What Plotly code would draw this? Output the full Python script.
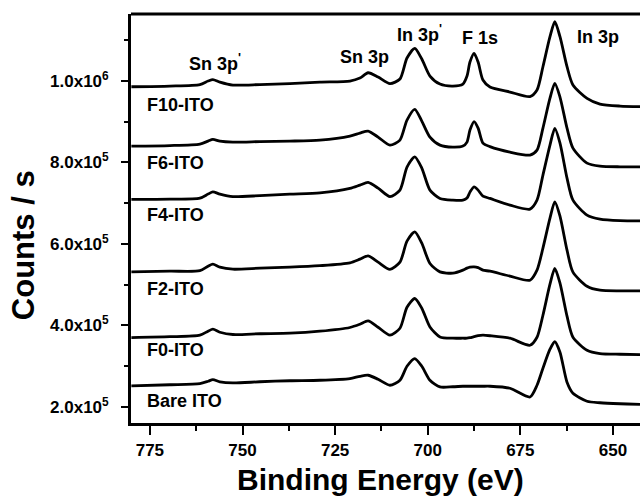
import plotly.graph_objects as go

# Binding energy grid (eV) shared by all spectra
binding_energy = [780.0, 769.6, 761.5, 759.3, 758.0, 756.1, 752.6, 745.3, 737.2, 729.1,
                  721.0, 718.3, 716.1, 713.4, 710.2, 707.5, 705.6, 703.5, 701.6, 699.4,
                  696.7, 693.2, 690.5, 689.4, 688.6, 687.5, 686.4, 685.1, 683.2, 677.8,
                  672.4, 670.5, 668.9, 667.0, 665.7, 664.3, 662.4, 660.8, 657.0, 653.5,
                  648.1, 642.7]

# Counts / s in thousands
f10_ito = [985.3, 987.0, 990.7, 999.3, 1003.0, 996.8, 989.5, 990.7, 993.1, 996.8,
           999.3, 1006.6, 1019.6, 1009.1, 993.1, 1004.2, 1055.7, 1079.5, 1053.3, 1011.5,
           991.9, 987.0, 991.9, 1011.5, 1045.9, 1067.2, 1045.9, 1001.7, 984.5, 972.3,
           961.2, 977.2, 1034.4, 1108.0, 1144.8, 1108.0, 1034.4, 989.5, 956.8, 942.8,
           937.9, 936.7]
f6_ito = [839.8, 841.0, 844.7, 852.0, 856.2, 852.0, 849.6, 850.8, 852.0, 854.5,
          864.3, 871.7, 876.6, 861.8, 842.2, 854.5, 903.6, 929.8, 901.1, 861.8,
          842.2, 837.3, 839.8, 849.6, 879.0, 899.9, 883.9, 847.1, 838.5, 825.0,
          817.7, 829.9, 883.9, 957.5, 993.6, 960.0, 883.9, 834.9, 798.0, 790.7,
          789.0, 789.0]
f4_ito = [709.0, 709.7, 712.2, 722.0, 727.6, 722.0, 715.8, 718.3, 722.0, 725.2,
          736.0, 744.1, 750.7, 736.7, 715.8, 731.8, 788.2, 813.5, 785.8, 731.8,
          711.4, 707.2, 707.2, 712.2, 726.9, 739.9, 731.8, 717.1, 711.4, 695.0,
          685.2, 707.2, 768.6, 842.2, 883.2, 847.1, 761.2, 707.2, 670.4, 660.6,
          656.9, 656.4]
f2_ito = [531.3, 533.0, 534.2, 545.3, 550.2, 542.8, 537.9, 540.4, 542.8, 546.5,
          553.4, 562.5, 570.6, 555.1, 537.2, 555.1, 606.6, 629.5, 601.7, 551.9,
          531.3, 528.1, 535.5, 540.4, 542.8, 543.6, 541.6, 535.5, 533.0, 520.7,
          510.9, 535.5, 589.5, 663.1, 703.1, 668.0, 584.5, 530.6, 496.2, 486.4,
          484.7, 484.7]
f0_ito = [370.3, 372.3, 376.0, 385.8, 390.7, 383.3, 377.7, 379.6, 380.9, 385.8,
          394.9, 402.9, 411.1, 395.6, 376.0, 393.1, 444.7, 466.0, 442.2, 396.3,
          371.8, 368.6, 368.6, 368.6, 369.8, 372.3, 374.7, 376.0, 374.7, 368.6,
          351.4, 371.0, 425.0, 501.1, 539.6, 503.6, 422.6, 371.0, 339.1, 331.0,
          329.3, 328.6]
bare_ito = [251.5, 254.5, 257.4, 263.1, 267.2, 261.8, 258.9, 261.8, 264.3, 265.5,
            269.7, 275.3, 277.8, 268.0, 253.3, 265.5, 299.9, 318.8, 299.9, 265.5,
            249.1, 249.6, 250.8, 250.8, 250.8, 250.8, 250.8, 250.8, 250.8, 245.9,
            224.5, 253.3, 295.0, 341.6, 360.0, 334.2, 260.6, 233.6, 214.0, 210.3,
            207.9, 206.6]

series_names = ["F10-ITO", "F6-ITO", "F4-ITO", "F2-ITO", "F0-ITO", "Bare ITO"]
series_values = [f10_ito, f6_ito, f4_ito, f2_ito, f0_ito, bare_ito]

y_tick_values = [2e5, 4e5, 6e5, 8e5, 1e6]
y_tick_labels = ["2.0x10<sup>5</sup>", "4.0x10<sup>5</sup>", "6.0x10<sup>5</sup>",
                 "8.0x10<sup>5</sup>", "1.0x10<sup>6</sup>"]

peak_labels = ["Sn 3p<sup>'</sup>", "Sn 3p", "In 3p<sup>'</sup>", "F 1s", "In 3p"]

FONT = "Liberation Sans, Arial, sans-serif"
BOLD = dict(family=FONT, color="black", weight="bold")

fig = go.Figure()
for name, vals in zip(series_names, series_values):
    fig.add_trace(go.Scatter(
        x=binding_energy, y=[v * 1000 for v in vals], mode="lines", name=name,
        line=dict(color="black", width=2.8, shape="spline", smoothing=0.7),
        showlegend=False, hoverinfo="skip"))

# sample labels
label_pos_y = [940e3, 799e3, 670e3, 490e3, 339e3, 214e3]
for name, yy in zip(series_names, label_pos_y):
    fig.add_annotation(x=776.3, y=yy, text=name, showarrow=False, xanchor="left",
                       yanchor="middle", font=dict(BOLD, size=18))

# peak labels
peak_pos = [(765.0, 1046e3), (724.2, 1058e3), (708.9, 1117e3), (691.3, 1105e3), (660.3, 1107e3)]
for txt, (px, py) in zip(peak_labels, peak_pos):
    fig.add_annotation(x=px, y=py, text=txt, showarrow=False, xanchor="left",
                       yanchor="middle", font=dict(BOLD, size=18))

# axis titles
fig.add_annotation(xref="paper", yref="paper", x=-0.212, y=0.435, text="Counts / s",
                   textangle=-90, showarrow=False, xanchor="center", yanchor="middle",
                   font=dict(BOLD, size=31))
fig.add_annotation(xref="paper", yref="paper", x=0.49, y=-0.137, text="Binding Energy (eV)",
                   showarrow=False, xanchor="center", yanchor="middle",
                   font=dict(BOLD, size=30))

# top frame line
fig.add_shape(type="line", xref="paper", yref="paper", x0=0, x1=1, y0=1, y1=1,
              line=dict(color="black", width=2.8))

fig.update_xaxes(range=[780.1, 642.7], tickmode="linear", tick0=650, dtick=25,
                 ticks="outside", ticklen=9, tickwidth=2.4, tickcolor="black",
                 showline=True, linewidth=2.8, linecolor="black", showgrid=False, zeroline=False,
                 automargin=False, ticklabelstandoff=1,
                 tickfont=dict(BOLD, size=17),
                 minor=dict(ticks="outside", dtick=12.5, tick0=650, ticklen=5, tickwidth=2.4,
                            tickcolor="black", showgrid=False))
fig.update_yaxes(range=[160.7e3, 1163.7e3], tickmode="array", tickvals=y_tick_values,
                 ticktext=y_tick_labels, ticks="outside", ticklen=7, tickwidth=2.4,
                 tickcolor="black", showline=True, linewidth=2.8, linecolor="black",
                 showgrid=False, zeroline=False, automargin=False, ticklabelstandoff=9,
                 tickfont=dict(BOLD, size=17),
                 minor=dict(ticks="outside", dtick=1e5, tick0=0, ticklen=4, tickwidth=2.4,
                            tickcolor="black", showgrid=False))

fig.update_layout(width=640, height=497, margin=dict(l=131, r=0, t=14, b=74),
                  plot_bgcolor="white", paper_bgcolor="white")

fig.write_html("out.html", config={"displayModeBar": False},
               post_script="document.body.style.margin='0';")
